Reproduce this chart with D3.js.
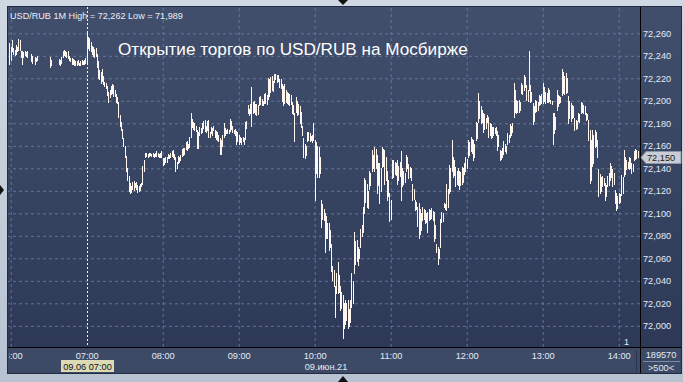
<!DOCTYPE html>
<html>
<head>
<meta charset="utf-8">
<title>USD/RUB 1M</title>
<script src="https://d3js.org/d3.v7.min.js"></script>
<style>
  body { margin: 0; background: #c3cedb; }
  svg { display: block; font-family: "Liberation Sans", Arial, sans-serif; }
</style>
</head>
<body>
<div id="chart"></div>
<script>
// 1-minute bars, first bar at 05:59, one entry per minute (null = no trades)
const startTime = "05:59";
const highs = [
  72.251,
  72.248, 72.254, 72.247, 72.245, 72.250, 72.248, 72.255, 72.254, 72.244, 72.244,
  72.243, 72.244, 72.243, 72.244, null, null, 72.242, 72.240, null, 72.239,
  72.238, 72.240, null, null, null, null, null, null, null, null,
  null, 72.239, 72.236, null, null, null, null, null, 72.237, 72.236,
  72.239, 72.244, 72.245, 72.244, 72.243, 72.244, 72.240, 72.238, 72.238, 72.237,
  72.236, 72.235, 72.235, 72.236, 72.234, 72.235, 72.236, 72.235, 72.236, 72.238,
  // 07:00
  72.262, 72.257, 72.256, 72.252, 72.249, 72.248, 72.246, 72.247, 72.242, 72.235,
  72.227, 72.226, 72.228, 72.222, 72.217, 72.216, 72.213, 72.208, 72.210, 72.213,
  72.215, 72.214, 72.210, 72.206, 72.203, 72.199, 72.187, 72.181, 72.175, 72.167,
  72.160, 72.151, 72.140, 72.133, 72.127, 72.124, 72.128, 72.129, 72.127, 72.128,
  72.125, 72.124, 72.126, 72.127, 72.142, 72.147, 72.154, 72.154, 72.153, 72.154,
  72.154, 72.153, 72.154, 72.153, 72.154, 72.155, 72.154, 72.153, 72.154, 72.155,
  // 08:00
  72.149, 72.149, 72.150, 72.150, 72.153, 72.152, 72.154, 72.155, 72.156, 72.153,
  72.150, 72.146, 72.151, 72.150, 72.152, 72.157, 72.158, 72.158, 72.163, 72.164,
  72.162, 72.168, 72.189, 72.184, 72.181, 72.180, 72.178, 72.174, 72.172, 72.177,
  72.176, 72.180, 72.182, 72.183, 72.178, 72.182, 72.183, 72.172, 72.177, 72.176,
  72.178, 72.174, 72.173, 72.172, 72.170, 72.167, 72.165, 72.170, 72.180, 72.176,
  72.174, 72.175, 72.174, 72.184, 72.182, 72.178, 72.174, 72.175, 72.173, 72.172,
  // 09:00
  72.170, 72.168, 72.167, 72.168, 72.167, 72.181, 72.182, 72.196, 72.193, 72.197,
  72.212, 72.199, 72.200, 72.197, 72.197, 72.196, 72.203, 72.204, 72.202, 72.200,
  72.206, 72.207, 72.205, 72.220, 72.219, 72.221, 72.222, 72.218, 72.224, 72.224,
  72.223, 72.223, 72.219, 72.219, 72.215, 72.213, 72.215, 72.210, 72.208, 72.207,
  72.206, 72.205, 72.199, 72.196, 72.189, 72.203, 72.200, 72.197, 72.195, 72.190,
  72.178, 72.167, 72.162, 72.160, 72.172, 72.172, 72.171, 72.169, 72.170, 72.180,
  // 10:00
  72.165, 72.163, 72.160, 72.159, 72.150, 72.112, 72.108, 72.104, 72.100, 72.098,
  72.091, 72.091, 72.085, 72.073, 72.053, 72.050, 72.035, 72.047, 72.057, 72.045,
  72.035, 72.030, 72.027, 72.020, 72.023, 72.020, 72.023, 72.015, 72.023, 72.047,
  72.040, 72.083, 72.075, 72.076, 72.070, 72.068, 72.086, 72.090, 72.106, 72.131,
  72.130, 72.126, 72.120, 72.138, 72.136, 72.156, 72.152, 72.159, 72.157, 72.152,
  72.145, 72.145, 72.140, 72.159, 72.157, 72.156, 72.150, 72.138, 72.130, 72.118,
  // 11:00
  72.112, 72.147, 72.147, 72.146, 72.145, 72.147, 72.142, 72.146, 72.155, 72.140,
  72.138, 72.136, 72.152, 72.150, 72.144, 72.141, 72.140, 72.126, 72.122, 72.112,
  72.110, 72.106, 72.109, 72.104, 72.100, 72.106, 72.104, 72.103, 72.100, 72.101,
  72.104, 72.103, 72.105, 72.102, 72.101, 72.090, 72.073, 72.070, 72.068, 72.095,
  72.101, 72.100, 72.109, 72.108, 72.126, 72.122, 72.143, 72.140, 72.165, 72.150,
  72.147, 72.141, 72.138, 72.140, 72.138, 72.137, 72.141, 72.140, 72.145, 72.150,
  // 12:00
  72.148, 72.165, 72.163, 72.168, 72.166, 72.165, 72.162, 72.181, 72.180, 72.207,
  72.200, 72.195, 72.192, 72.189, 72.188, 72.185, 72.187, 72.186, 72.180, 72.179,
  72.177, 72.177, 72.176, 72.177, 72.173, 72.170, 72.156, 72.155, 72.158, 72.164,
  72.162, 72.160, 72.171, 72.170, 72.179, 72.178, 72.180, 72.216, 72.210, 72.201,
  72.200, 72.201, 72.199, 72.216, 72.214, 72.223, 72.221, 72.214, 72.210, 72.244,
  72.214, 72.208, 72.198, 72.195, 72.201, 72.200, 72.199, 72.205, 72.204, 72.206,
  // 13:00
  72.216, 72.212, 72.208, 72.207, 72.211, 72.210, 72.201, 72.200, 72.189, 72.189,
  72.186, 72.210, 72.205, 72.204, 72.203, 72.228, 72.226, 72.222, 72.225, 72.220,
  72.204, 72.200, 72.198, 72.196, 72.195, 72.185, 72.183, 72.182, 72.189, 72.188,
  72.199, 72.198, 72.196, 72.195, 72.189, 72.188, 72.183, 72.174, 72.165, 72.174,
  72.170, 72.174, 72.172, 72.165, 72.139, 72.135, 72.132, 72.133, 72.131, 72.127,
  72.125, 72.133, 72.136, 72.145, 72.142, 72.139, 72.136, 72.121, 72.118, 72.115,
  // 14:00
  72.118, 72.117, 72.134, 72.132, 72.156, 72.150, 72.147, 72.146, 72.150, 72.149,
  72.145, 72.144, 72.155, 72.157, 72.156, 72.155
];
const lows = [
  72.233,
  72.236, 72.244, 72.242, 72.241, 72.242, 72.244, 72.245, 72.245, 72.239, 72.233,
  72.239, 72.241, 72.240, 72.239, null, null, 72.235, 72.234, null, 72.233,
  72.235, 72.236, null, null, null, null, null, null, null, null,
  null, 72.230, 72.232, null, null, null, null, null, 72.233, 72.232,
  72.234, 72.239, 72.241, 72.240, 72.239, 72.238, 72.236, 72.235, 72.233, 72.233,
  72.232, 72.232, 72.232, 72.233, 72.232, 72.232, 72.233, 72.233, 72.233, 72.234,
  // 07:00
  72.234, 72.247, 72.245, 72.244, 72.242, 72.240, 72.239, 72.240, 72.230, 72.220,
  72.219, 72.216, 72.218, 72.215, 72.213, 72.211, 72.205, 72.199, 72.203, 72.206,
  72.207, 72.204, 72.204, 72.199, 72.198, 72.186, 72.178, 72.174, 72.167, 72.160,
  72.150, 72.138, 72.130, 72.120, 72.118, 72.119, 72.122, 72.121, 72.123, 72.122,
  72.119, 72.120, 72.121, 72.124, 72.126, 72.138, 72.150, 72.151, 72.150, 72.151,
  72.152, 72.151, 72.151, 72.150, 72.151, 72.151, 72.151, 72.150, 72.150, 72.150,
  // 08:00
  72.143, 72.144, 72.146, 72.146, 72.149, 72.149, 72.150, 72.151, 72.150, 72.148,
  72.138, 72.140, 72.145, 72.146, 72.147, 72.151, 72.152, 72.153, 72.157, 72.156,
  72.158, 72.159, 72.168, 72.177, 72.175, 72.174, 72.173, 72.158, 72.158, 72.170,
  72.171, 72.172, 72.176, 72.173, 72.172, 72.174, 72.168, 72.168, 72.171, 72.170,
  72.174, 72.168, 72.166, 72.165, 72.164, 72.153, 72.153, 72.160, 72.168, 72.170,
  72.171, 72.171, 72.171, 72.173, 72.175, 72.172, 72.171, 72.170, 72.162, 72.164,
  // 09:00
  72.162, 72.163, 72.162, 72.164, 72.162, 72.166, 72.176, 72.189, 72.187, 72.189,
  72.178, 72.189, 72.190, 72.188, 72.187, 72.188, 72.196, 72.197, 72.196, 72.196,
  72.198, 72.198, 72.197, 72.202, 72.204, 72.208, 72.210, 72.209, 72.217, 72.219,
  72.217, 72.218, 72.212, 72.211, 72.200, 72.196, 72.198, 72.199, 72.198, 72.197,
  72.196, 72.197, 72.189, 72.188, 72.164, 72.190, 72.187, 72.188, 72.180, 72.177,
  72.170, 72.150, 72.149, 72.152, 72.164, 72.165, 72.164, 72.165, 72.163, 72.165,
  // 10:00
  72.112, 72.136, 72.132, 72.132, 72.136, 72.088, 72.095, 72.094, 72.066, 72.078,
  72.078, 72.067, 72.070, 72.049, 72.041, 72.035, 72.008, 72.029, 72.029, 72.030,
  72.014, 72.016, 71.989, 71.998, 72.002, 72.005, 71.998, 72.000, 72.003, 72.017,
  72.020, 72.047, 72.055, 72.058, 72.054, 72.060, 72.070, 72.080, 72.083, 72.100,
  72.110, 72.106, 72.105, 72.122, 72.125, 72.138, 72.140, 72.138, 72.140, 72.118,
  72.125, 72.109, 72.120, 72.141, 72.142, 72.126, 72.130, 72.112, 72.115, 72.093,
  // 11:00
  72.095, 72.131, 72.132, 72.135, 72.134, 72.126, 72.130, 72.133, 72.112, 72.124,
  72.126, 72.128, 72.138, 72.140, 72.131, 72.132, 72.130, 72.112, 72.113, 72.103,
  72.104, 72.089, 72.078, 72.082, 72.085, 72.094, 72.095, 72.091, 72.092, 72.083,
  72.094, 72.095, 72.096, 72.094, 72.075, 72.078, 72.066, 72.055, 72.060, 72.070,
  72.092, 72.093, 72.106, 72.104, 72.103, 72.106, 72.118, 72.120, 72.138, 72.132,
  72.134, 72.124, 72.126, 72.125, 72.122, 72.125, 72.126, 72.128, 72.135, 72.138,
  // 12:00
  72.140, 72.150, 72.152, 72.155, 72.154, 72.147, 72.150, 72.165, 72.167, 72.181,
  72.185, 72.180, 72.181, 72.172, 72.175, 72.176, 72.181, 72.168, 72.170, 72.167,
  72.168, 72.170, 72.171, 72.170, 72.156, 72.160, 72.147, 72.148, 72.150, 72.153,
  72.155, 72.154, 72.162, 72.163, 72.168, 72.170, 72.172, 72.186, 72.190, 72.189,
  72.190, 72.190, 72.192, 72.207, 72.206, 72.210, 72.212, 72.201, 72.200, 72.210,
  72.199, 72.200, 72.179, 72.182, 72.190, 72.191, 72.192, 72.196, 72.197, 72.198,
  // 13:00
  72.198, 72.200, 72.198, 72.199, 72.199, 72.200, 72.198, 72.197, 72.162, 72.171,
  72.175, 72.192, 72.195, 72.198, 72.199, 72.205, 72.207, 72.206, 72.207, 72.208,
  72.180, 72.185, 72.182, 72.185, 72.186, 72.174, 72.175, 72.176, 72.182, 72.181,
  72.189, 72.190, 72.189, 72.188, 72.183, 72.184, 72.165, 72.127, 72.130, 72.142,
  72.145, 72.159, 72.160, 72.150, 72.115, 72.118, 72.120, 72.124, 72.125, 72.112,
  72.115, 72.124, 72.125, 72.130, 72.132, 72.124, 72.126, 72.109, 72.103, 72.105,
  // 14:00
  72.109, 72.110, 72.116, 72.118, 72.133, 72.135, 72.139, 72.140, 72.139, 72.140,
  72.136, 72.138, 72.147, 72.148, 72.149, 72.150
];

const priceTicks = [72.000, 72.020, 72.040, 72.060, 72.080, 72.100, 72.120, 72.140,
                    72.160, 72.180, 72.200, 72.220, 72.240, 72.260];
const hourTicks = ["06:00", "07:00", "08:00", "09:00", "10:00", "11:00", "12:00", "13:00", "14:00"];

const headerText = "USD/RUB 1M High = 72,262 Low = 71,989";
const titleText = "Открытие торгов по USD/RUB на Мосбирже";
const lastPrice = 72.150;
const cursorTime = "07:00";
const cursorLabel = "09.06 07:00";
const dateLabel = "09.июн.21";
const barCount = "1";
const volumeText = "189570";
const volumeSub = ">500<";

const W = 683, H = 382;
const plot = { left: 8, right: 640, top: 7, bottom: 347 };
const day = "2021-06-09 ";
const parse = d3.timeParse("%Y-%m-%d %H:%M");

const t0 = parse(day + startTime);
const bars = highs.map((h, i) => ({ t: d3.timeMinute.offset(t0, i), hi: h, lo: lows[i] }))
  .filter(d => d.hi != null && d.lo != null);
const hourDates = hourTicks.map(s => parse(day + s));

// 76 px per hour
const x = d3.scaleTime()
  .domain([parse(day + "06:00"), parse(day + "14:00")])
  .range([10.7, 618.7]);
const y = d3.scaleLinear()
  .domain([72.000, 72.260])
  .range([325.8, 33.3]);

const fmtPrice = v => d3.format(".3f")(v).replace(".", ",");

const svg = d3.select("#chart").append("svg")
  .attr("width", W)
  .attr("height", H);

const defs = svg.append("defs");
const grad = defs.append("linearGradient").attr("id", "bg")
  .attr("x1", 0).attr("y1", 0).attr("x2", 0).attr("y2", 1);
grad.append("stop").attr("offset", "0%").attr("stop-color", "#414f6d");
grad.append("stop").attr("offset", "100%").attr("stop-color", "#2b3755");

const outer = defs.append("linearGradient").attr("id", "frame")
  .attr("x1", 0).attr("y1", 0).attr("x2", 0).attr("y2", 1);
outer.append("stop").attr("offset", "0%").attr("stop-color", "#cfd8e3");
outer.append("stop").attr("offset", "100%").attr("stop-color", "#b7c3d2");

defs.append("clipPath").attr("id", "plotClip").append("rect")
  .attr("x", plot.left).attr("y", plot.top)
  .attr("width", plot.right - plot.left).attr("height", plot.bottom - plot.top);
defs.append("clipPath").attr("id", "timeClip").append("rect")
  .attr("x", plot.left + 1).attr("y", plot.bottom)
  .attr("width", 627).attr("height", 27);

// frame and panels
svg.append("rect").attr("width", W).attr("height", H).attr("fill", "url(#frame)");
svg.append("rect")
  .attr("x", plot.left - 0.5).attr("y", plot.top - 0.5)
  .attr("width", 674).attr("height", 367)
  .attr("fill", "url(#bg)")
  .attr("stroke", "#222b3f");
svg.append("rect")
  .attr("x", plot.left).attr("y", plot.bottom)
  .attr("width", 673).attr("height", 26)
  .attr("fill", "#3d4a66");

// grid (clip on an outer group so the clip box stays in page coordinates)
const gridLayer = svg.append("g").attr("clip-path", "url(#plotClip)");
const gridY = gridLayer.append("g")
  .attr("transform", `translate(${plot.right},0)`)
  .call(d3.axisLeft(y).tickValues(priceTicks).tickSize(plot.right - plot.left).tickFormat(""));
const gridX = gridLayer.append("g")
  .attr("transform", `translate(0,${plot.bottom})`)
  .call(d3.axisBottom(x).tickValues(hourDates).tickSize(-(plot.bottom - plot.top)).tickFormat(""));
[gridY, gridX].forEach(g => {
  g.select(".domain").remove();
  g.selectAll("line")
    .attr("stroke", "#6f80a6")
    .attr("stroke-opacity", 0.8)
    .attr("stroke-dasharray", "3,3");
});
gridX.selectAll(".tick")
  .filter(d => +d === +parse(day + cursorTime))
  .remove();

// cursor line
const cx = Math.round(x(parse(day + cursorTime))) + 0.5;
svg.append("line")
  .attr("x1", cx).attr("x2", cx)
  .attr("y1", plot.top).attr("y2", plot.bottom)
  .attr("stroke", "#f2f2f2")
  .attr("stroke-dasharray", "2,2");

// bars
svg.append("g")
  .attr("clip-path", "url(#plotClip)")
  .selectAll("rect")
  .data(bars)
  .enter()
  .append("rect")
  .attr("x", d => Math.round(x(d.t)))
  .attr("y", d => Math.round(y(d.hi)))
  .attr("width", 1)
  .attr("height", d => Math.max(1, Math.round(y(d.lo)) - Math.round(y(d.hi)) + 1))
  .attr("fill", "#fff6ef");

// separators
svg.append("line")
  .attr("x1", plot.right + 0.5).attr("x2", plot.right + 0.5)
  .attr("y1", plot.top).attr("y2", 373)
  .attr("stroke", "#000");
svg.append("line")
  .attr("x1", plot.left).attr("x2", 681)
  .attr("y1", plot.bottom + 0.5).attr("y2", plot.bottom + 0.5)
  .attr("stroke", "#000");
svg.append("line")
  .attr("x1", 636.5).attr("x2", 636.5)
  .attr("y1", 350).attr("y2", 372)
  .attr("stroke", "#2a3550");

// price axis
const yAxis = svg.append("g")
  .attr("transform", `translate(${plot.right},0)`)
  .call(d3.axisRight(y).tickValues(priceTicks).tickSize(0).tickPadding(3).tickFormat(fmtPrice));
yAxis.select(".domain").remove();
yAxis.selectAll("text")
  .attr("fill", "#e3eaf6")
  .style("font-size", "9.2px");

// time axis
const xAxis = svg.append("g")
  .attr("clip-path", "url(#timeClip)")
  .append("g")
  .attr("transform", `translate(0,${plot.bottom})`)
  .call(d3.axisBottom(x).tickValues(hourDates).tickSize(0).tickFormat(d3.timeFormat("%H:%M")));
xAxis.select(".domain").remove();
xAxis.selectAll("text")
  .attr("y", 12).attr("dy", 0)
  .attr("fill", "#e3eaf6")
  .style("font-size", "9.2px");

// last price marker
const py = Math.round(y(lastPrice)) + 0.5;
svg.append("path")
  .attr("d", `M${plot.right + 1},${py} L${plot.right + 6},${py - 6} H681 V${py + 6} H${plot.right + 6} Z`)
  .attr("fill", "#c8cdd5")
  .attr("stroke", "#8c95a5");
svg.append("text")
  .attr("x", plot.right + 7).attr("y", py + 3.5)
  .attr("fill", "#1b1b1b")
  .style("font-size", "9.2px")
  .text(fmtPrice(lastPrice));

// cursor time box
svg.append("rect")
  .attr("x", cx - 26.5).attr("y", 360)
  .attr("width", 53).attr("height", 12)
  .attr("fill", "#dcdab4");
svg.append("text")
  .attr("x", cx).attr("y", 369.8)
  .attr("text-anchor", "middle")
  .attr("fill", "#111")
  .style("font-size", "9.2px")
  .text(cursorLabel);

svg.append("text")
  .attr("x", x(parse(day + "10:00")) - 10).attr("y", 369.5)
  .attr("fill", "#e3eaf6")
  .style("font-size", "9.2px")
  .text(dateLabel);

svg.append("text")
  .attr("x", 624).attr("y", 345)
  .attr("fill", "#e3eaf6")
  .style("font-size", "9px")
  .text(barCount);

// volume box
svg.append("text")
  .attr("x", 661).attr("y", 357.5)
  .attr("text-anchor", "middle")
  .attr("fill", "#e3eaf6")
  .style("font-size", "9.2px")
  .text(volumeText);
svg.append("line")
  .attr("x1", 643).attr("x2", 680)
  .attr("y1", 361.5).attr("y2", 361.5)
  .attr("stroke", "#7d8aa6");
svg.append("text")
  .attr("x", 661).attr("y", 370.5)
  .attr("text-anchor", "middle")
  .attr("fill", "#e3eaf6")
  .style("font-size", "9.2px")
  .text(volumeSub);

// header and title, sized to their width in the picture
function fitText(sel, target) {
  const w = sel.node().getComputedTextLength();
  const fs = parseFloat(sel.style("font-size"));
  sel.style("font-size", (fs * target / w).toFixed(2) + "px");
}
const header = svg.append("text")
  .attr("x", 10).attr("y", 18.5)
  .attr("fill", "#e8eef8")
  .style("font-size", "10px")
  .text(headerText);
fitText(header, 173);

const title = svg.append("text")
  .attr("x", 118).attr("y", 55)
  .attr("fill", "#ffffff")
  .style("font-size", "17px")
  .text(titleText);
fitText(title, 350);

// small scroll arrows on the frame
svg.append("path").attr("d", "M338,0 H348 L343,5 Z").attr("fill", "#111");
svg.append("path").attr("d", "M338,382 H348 L343,376 Z").attr("fill", "#111");
svg.append("path").attr("d", "M0,185 V195 L4,190 Z").attr("fill", "#111");
</script>
</body>
</html>
